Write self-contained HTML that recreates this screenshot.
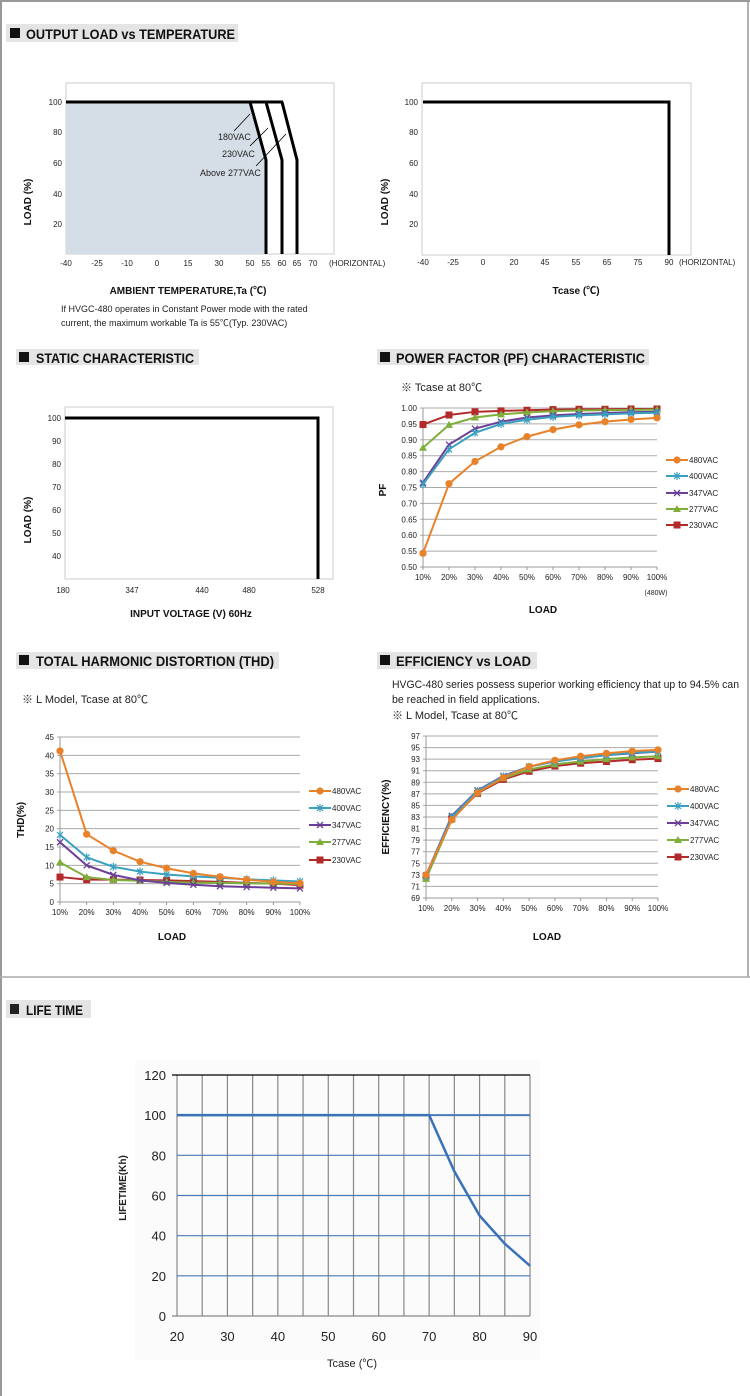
<!DOCTYPE html>
<html><head><meta charset="utf-8">
<style>
html,body{margin:0;padding:0;background:#fff;}
svg{display:block;font-family:"Liberation Sans","Noto Sans CJK SC",sans-serif;}
.h{font-weight:bold;font-size:14px;fill:#111;}
.t{font-size:8px;fill:#222;}
.b{font-weight:bold;font-size:10px;fill:#111;}
</style></head><body>
<svg id="s" width="750" height="1396" viewBox="0 0 750 1396" xmlns="http://www.w3.org/2000/svg">
<rect x="0" y="0" width="750" height="1396" fill="#fff"/>
<line x1="1" y1="0" x2="1" y2="1396" stroke="#999" stroke-width="2"/>
<line x1="0" y1="1" x2="750" y2="1" stroke="#999" stroke-width="2"/>
<line x1="748" y1="0" x2="748" y2="977" stroke="#999" stroke-width="1.5"/>
<line x1="0" y1="977" x2="750" y2="977" stroke="#aaa" stroke-width="1.5"/>

<rect x="6" y="24" width="232" height="18" fill="#e4e4e4"/><rect x="10" y="28" width="10" height="10" fill="#111"/>
<text x="26" y="39" class="h" textLength="209" lengthAdjust="spacingAndGlyphs">OUTPUT LOAD vs TEMPERATURE</text>
<rect x="16" y="349" width="183" height="16" fill="#e4e4e4"/><rect x="19" y="352" width="10" height="10" fill="#111"/>
<text x="36" y="363" class="h" textLength="158" lengthAdjust="spacingAndGlyphs">STATIC CHARACTERISTIC</text>
<rect x="377" y="349" width="272" height="16" fill="#e4e4e4"/><rect x="380" y="352" width="10" height="10" fill="#111"/>
<text x="396" y="363" class="h" textLength="249" lengthAdjust="spacingAndGlyphs">POWER FACTOR (PF) CHARACTERISTIC</text>
<rect x="16" y="652" width="263" height="17" fill="#e4e4e4"/><rect x="19" y="655" width="10" height="10" fill="#111"/>
<text x="36" y="666" class="h" textLength="238" lengthAdjust="spacingAndGlyphs">TOTAL HARMONIC DISTORTION (THD)</text>
<rect x="377" y="652" width="160" height="17" fill="#e4e4e4"/><rect x="380" y="655" width="10" height="10" fill="#111"/>
<text x="396" y="666" class="h" textLength="135" lengthAdjust="spacingAndGlyphs">EFFICIENCY vs LOAD</text>
<rect x="6" y="1000" width="85" height="18" fill="#e4e4e4"/><rect x="10" y="1004" width="9" height="10" fill="#222"/>
<text x="26" y="1015" class="h" textLength="57" lengthAdjust="spacingAndGlyphs">LIFE TIME</text>

<rect x="66" y="83" width="268" height="171" fill="none" stroke="#ccc"/>
<polygon points="66,102 250,102 266,160 266,254 66,254" fill="#d5dee6"/>
<polyline points="66,102 250,102 266,160 266,254" fill="none" stroke="#000" stroke-width="3"/>
<polyline points="250,102 283,102" fill="none" stroke="#000" stroke-width="3"/>
<polyline points="266,102 282,160 282,254" fill="none" stroke="#000" stroke-width="3"/>
<polyline points="282,102 297,160 297,254" fill="none" stroke="#000" stroke-width="3"/>
<line x1="234" y1="131" x2="250" y2="114" stroke="#000" stroke-width="0.8"/>
<line x1="250" y1="146" x2="268" y2="128" stroke="#000" stroke-width="0.8"/>
<line x1="256" y1="166" x2="286" y2="134" stroke="#000" stroke-width="0.8"/>
<text x="218" y="140" class="t" style="font-size:9px">180VAC</text>
<text x="222" y="157" class="t" style="font-size:9px">230VAC</text>
<text x="200" y="176" class="t" style="font-size:9px">Above 277VAC</text>
<g class="t" text-anchor="end"><text x="62" y="105">100</text><text x="62" y="135">80</text><text x="62" y="166">60</text><text x="62" y="197">40</text><text x="62" y="227">20</text></g>
<g class="t" text-anchor="middle"><text x="66" y="266">-40</text><text x="97" y="266">-25</text><text x="127" y="266">-10</text><text x="157" y="266">0</text><text x="188" y="266">15</text><text x="219" y="266">30</text><text x="250" y="266">50</text><text x="266" y="266">55</text><text x="282" y="266">60</text><text x="297" y="266">65</text><text x="313" y="266">70</text></g>
<text x="329" y="266" class="t">(HORIZONTAL)</text>
<text x="188" y="294" class="b" text-anchor="middle">AMBIENT TEMPERATURE,Ta (℃)</text>
<text x="61" y="312" class="t" style="font-size:9px">If HVGC-480 operates in Constant Power mode with the rated</text>
<text x="61" y="326" class="t" style="font-size:9px">current, the maximum workable Ta is 55℃(Typ. 230VAC)</text>
<text transform="translate(31,202) rotate(-90)" class="b" text-anchor="middle">LOAD (%)</text>

<rect x="422" y="83" width="269" height="172" fill="none" stroke="#ccc"/>
<polyline points="423,102 669,102 669,255" fill="none" stroke="#000" stroke-width="3"/>
<g class="t" text-anchor="end"><text x="418" y="105">100</text><text x="418" y="135">80</text><text x="418" y="166">60</text><text x="418" y="197">40</text><text x="418" y="227">20</text></g>
<g class="t" text-anchor="middle"><text x="423" y="265">-40</text><text x="453" y="265">-25</text><text x="483" y="265">0</text><text x="514" y="265">20</text><text x="545" y="265">45</text><text x="576" y="265">55</text><text x="607" y="265">65</text><text x="638" y="265">75</text><text x="669" y="265">90</text></g>
<text x="679" y="265" class="t">(HORIZONTAL)</text>
<text x="576" y="294" class="b" text-anchor="middle">Tcase (℃)</text>
<text transform="translate(388,202) rotate(-90)" class="b" text-anchor="middle">LOAD (%)</text>

<rect x="65" y="407" width="268" height="172" fill="none" stroke="#ccc"/>
<polyline points="65,418 318,418 318,579" fill="none" stroke="#000" stroke-width="3"/>
<g class="t" text-anchor="end"><text x="61" y="421">100</text><text x="61" y="444">90</text><text x="61" y="467">80</text><text x="61" y="490">70</text><text x="61" y="513">60</text><text x="61" y="536">50</text><text x="61" y="559">40</text></g>
<g class="t" text-anchor="middle"><text x="63" y="593">180</text><text x="132" y="593">347</text><text x="202" y="593">440</text><text x="249" y="593">480</text><text x="318" y="593">528</text></g>
<text x="191" y="617" class="b" text-anchor="middle">INPUT VOLTAGE (V) 60Hz</text>
<text transform="translate(31,520) rotate(-90)" class="b" text-anchor="middle">LOAD (%)</text>

<text x="401" y="391" class="t" style="font-size:11px">※ Tcase at 80℃</text>
<text x="656" y="595" class="t" style="font-size:7px" text-anchor="middle">(480W)</text>
<text x="543" y="613" class="b" text-anchor="middle">LOAD</text>
<text transform="translate(386,490) rotate(-90)" class="b" text-anchor="middle">PF</text>

<text x="22" y="703" class="t" style="font-size:11px">※ L Model, Tcase at 80℃</text>
<text x="172" y="940" class="b" text-anchor="middle">LOAD</text>
<text transform="translate(24,820) rotate(-90)" class="b" text-anchor="middle">THD(%)</text>

<text x="392" y="688" class="t" style="font-size:11px" textLength="347" lengthAdjust="spacingAndGlyphs">HVGC-480 series possess superior working efficiency that up to 94.5% can</text>
<text x="392" y="703" class="t" style="font-size:11px" textLength="148" lengthAdjust="spacingAndGlyphs">be reached in field applications.</text>
<text x="392" y="719" class="t" style="font-size:11px">※ L Model, Tcase at 80℃</text>
<text x="547" y="940" class="b" text-anchor="middle">LOAD</text>
<text transform="translate(389,817) rotate(-90)" class="b" text-anchor="middle">EFFICIENCY(%)</text>

<rect x="135" y="1060" width="405" height="300" fill="#fbfbfb"/>
<g id="life"></g>
<text transform="translate(126,1188) rotate(-90)" font-size="10" font-weight="bold" fill="#222" text-anchor="middle">LIFETIME(Kh)</text>
<text x="352" y="1367" font-size="11" fill="#222" text-anchor="middle">Tcase (℃)</text>
<g id="dyn"></g>
</svg>
<script>
var NS="http://www.w3.org/2000/svg";
var g=document.getElementById("dyn");
function el(t,a,p){var e=document.createElementNS(NS,t);for(var k in a)e.setAttribute(k,a[k]);(p||g).appendChild(e);return e;}
function txt(x,y,s,a){var e=el("text",Object.assign({x:x,y:y,"font-size":8,fill:"#222"},a||{}));e.textContent=s;return e;}
var cols=["#e8822a","#3aa0bf","#6b3f98","#7fae3d","#b22a2a"];
var names=["480VAC","400VAC","347VAC","277VAC","230VAC"];
function marker(i,x,y){
 var c=cols[i];
 if(i==0) el("circle",{cx:x,cy:y,r:3.6,fill:c});
 else if(i==1){el("path",{d:"M"+(x-3)+","+(y-3)+"L"+(x+3)+","+(y+3)+"M"+(x-3)+","+(y+3)+"L"+(x+3)+","+(y-3)+"M"+(x)+","+(y-4)+"L"+x+","+(y+4),stroke:c,"stroke-width":1.2});}
 else if(i==2){el("path",{d:"M"+(x-3)+","+(y-3)+"L"+(x+3)+","+(y+3)+"M"+(x-3)+","+(y+3)+"L"+(x+3)+","+(y-3),stroke:c,"stroke-width":1.3});}
 else if(i==3) el("polygon",{points:x+","+(y-4)+" "+(x+4)+","+(y+3)+" "+(x-4)+","+(y+3),fill:c});
 else el("rect",{x:x-3.5,y:y-3.5,width:7,height:7,fill:c});
}
function chart(o){
 var dx=(o.x1-o.x0)/9;
 for(var v=o.ymin;v<=o.ymax+1e-9;v+=o.step){
  var y=o.yb-(v-o.ymin)/(o.ymax-o.ymin)*(o.yb-o.yt);
  el("line",{x1:o.x0-3,x2:o.x1,y1:y,y2:y,stroke:v==o.ymin?"#999":"#aaa","stroke-width":1});
  txt(o.x0-6,y+3,o.fmt(v),{"text-anchor":"end"});
 }
 el("line",{x1:o.x0,x2:o.x0,y1:o.yt,y2:o.yb,stroke:"#999"});
 for(var j=0;j<10;j++){var x=o.x0+dx*j;el("line",{x1:x,x2:x,y1:o.yb,y2:o.yb+3,stroke:"#999"});txt(x,o.yb+13,(j+1)*10+"%",{"text-anchor":"middle"});}
 for(var i=o.data.length-1;i>=0;i--){
  var pts=o.data[i].map(function(v,j){return [o.x0+dx*j,o.yb-(v-o.ymin)/(o.ymax-o.ymin)*(o.yb-o.yt)];});
  el("polyline",{points:pts.map(function(p){return p.join(",")}).join(" "),fill:"none",stroke:cols[i],"stroke-width":2});
  pts.forEach(function(p){marker(i,p[0],p[1]);});
  var ly=o.ly[i];
  el("line",{x1:o.lx,x2:o.lx+22,y1:ly,y2:ly,stroke:cols[i],"stroke-width":2});
  marker(i,o.lx+11,ly);
  txt(o.lx+23,ly+3,names[i]);
 }
}
chart({x0:423,x1:657,yt:408,yb:567,ymin:0.5,ymax:1.0,step:0.05,fmt:function(v){return v.toFixed(2)},
 lx:666,ly:[460,476,493,509,525],data:[
 [.543,.762,.832,.878,.91,.932,.947,.957,.964,.969],
 [.76,.87,.922,.95,.963,.972,.977,.98,.983,.985],
 [.765,.885,.935,.957,.97,.977,.981,.984,.987,.988],
 [.875,.947,.97,.98,.986,.99,.992,.993,.994,.995],
 [.948,.978,.988,.991,.993,.995,.996,.996,.997,.997]]});
chart({x0:60,x1:300,yt:737,yb:902,ymin:0,ymax:45,step:5,fmt:function(v){return Math.round(v)+""},
 lx:309,ly:[791,808,825,842,860],data:[
 [41.2,18.5,14,11,9.2,7.8,6.9,6.1,5.5,5.1],
 [18.3,12.2,9.6,8.3,7.5,7,6.6,6.2,5.9,5.6],
 [16.3,10,7.4,5.9,5.2,4.7,4.3,4.1,3.9,3.7],
 [10.8,6.8,6,5.8,5.5,5.3,5.2,5.1,5,4.9],
 [6.8,6.1,6.1,6,5.9,5.7,5.5,5.2,5,4.6]]});
chart({x0:426,x1:658,yt:736,yb:898,ymin:69,ymax:97,step:2,fmt:function(v){return Math.round(v)+""},
 lx:667,ly:[789,806,823,840,857],data:[
 [73,82.5,87.2,89.8,91.7,92.8,93.5,94,94.4,94.6],
 [72.8,83,87.5,90,91.7,92.6,93.2,93.7,94.1,94.3],
 [72.9,83.2,87.6,90.1,91.7,92.6,93.2,93.7,94,94.3],
 [72.3,82.6,87.3,89.7,91.2,92.1,92.6,93,93.3,93.5],
 [72.8,82.7,87.1,89.5,90.9,91.8,92.3,92.6,92.9,93.1]]});
var L=document.getElementById("life");
function lx(t){return 177+(t-20)*(353/70);} function ly(v){return 1316-v*(241/120);}
for(var t=20;t<=90;t+=5){el("line",{x1:lx(t),x2:lx(t),y1:ly(120),y2:ly(0),stroke:"#888","stroke-width":1.2},L);}
for(var v=20;v<=100;v+=20){el("line",{x1:lx(20),x2:lx(90),y1:ly(v),y2:ly(v),stroke:"#4a7ab8","stroke-width":v==100?2:1.2},L);}
el("line",{x1:172,x2:lx(90),y1:ly(120),y2:ly(120),stroke:"#000","stroke-width":1.3},L);
el("line",{x1:172,x2:lx(90),y1:ly(0),y2:ly(0),stroke:"#888","stroke-width":1.3},L);
for(var v=0;v<=120;v+=20){var e=el("text",{x:166,y:ly(v)+5,"font-size":13,fill:"#222","text-anchor":"end"},L);e.textContent=v;}
for(var t=20;t<=90;t+=10){var e=el("text",{x:lx(t),y:1341,"font-size":13,fill:"#222","text-anchor":"middle"},L);e.textContent=t;}
el("polyline",{points:[[20,100],[70,100],[75,72],[80,50],[85,36],[90,25]].map(function(p){return lx(p[0])+","+ly(p[1])}).join(" "),fill:"none",stroke:"#3a72b8","stroke-width":2.5},L);
</script>
</body></html>
